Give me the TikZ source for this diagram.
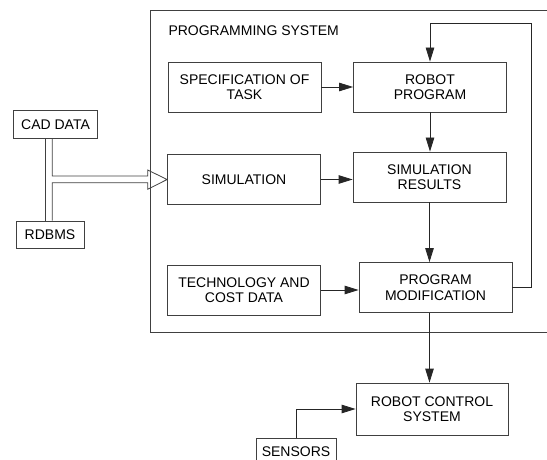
\documentclass[tikz,border=0pt]{standalone}
\usepackage{fontspec}
\setmainfont{Liberation Sans}
\usetikzlibrary{positioning,calc,arrows.meta}
\tikzset{
  blockbox/.style={draw=black!75, line width=0.8pt, minimum width=153pt,
    minimum height=50pt, align=center, inner sep=2pt,
    font=\fontsize{14}{15.5}\selectfont},
  databox/.style={draw=black!75, line width=0.8pt, minimum height=27.5pt,
    inner sep=2pt, font=\fontsize{14}{15.5}\selectfont},
  flow/.style={draw=black!85, line width=0.8pt,
    -{Triangle[length=14pt,width=8.5pt]}},
  frameline/.style={draw=black!75, line width=0.8pt}
}

\begin{document}
\begin{tikzpicture}[x=1pt,y=-1pt]
\useasboundingbox (0,0) rectangle (547,460);
\clip (0,0) rectangle (547,460);

%====================================================
% PROGRAMMING SYSTEM FRAME
%====================================================
\draw[frameline] (150,10) rectangle (560,332.5);
\node[anchor=base west, inner sep=0pt, font=\fontsize{14}{15.5}\selectfont]
  (systitle) at (168.3,36) {PROGRAMMING SYSTEM};

\node[blockbox] (spec)   at (244.5,87)  {SPECIFICATION OF\\TASK};
\node[blockbox] (prog)   at (430,87)    {ROBOT\\PROGRAM};
\node[blockbox] (sim)    at (244,179.5) {SIMULATION};
\node[blockbox] (simres) at (429.5,177) {SIMULATION\\RESULTS};
\node[blockbox] (tech)   at (244,290)   {TECHNOLOGY AND\\COST DATA};
\node[blockbox] (mod)    at (435.5,287.5) {PROGRAM\\MODIFICATION};

%====================================================
% OUTSIDE THE FRAME
%====================================================
\node[blockbox, minimum width=152pt, minimum height=52pt] (rcs) at (432,409) {ROBOT CONTROL\\SYSTEM};
\node[databox, minimum width=84.4pt] (cad)     at (55.5,124.5) {CAD DATA};
\node[databox, minimum width=68pt]   (rdbms)   at (50,234.7)   {RDBMS};
\node[databox, minimum width=80pt]   (sensors) at (296,452)    {SENSORS};

\draw[flow] (spec.east) -- (prog.west);
\draw[flow] (sim.east) -- (sim.east -| simres.west);
\draw[flow] (tech.east) -- (tech.east -| mod.west);
\draw[flow] (prog.south) -- (prog.south |- simres.north);
\draw[flow] (simres.south) -- (simres.south |- mod.north);
\draw[flow] (simres.south |- mod.south) -- (simres.south |- rcs.north);

% feedback loop
\coordinate (fbtop) at (531,23);
\draw[flow] (mod.east) -| (fbtop) -| (prog.north);

\draw[flow] (sensors.north) |- (rcs.west);

% hollow double arrow from the data sources
\coordinate (busl) at (45.7,0);
\coordinate (busr) at (52.3,0);
\draw[frameline] (cad.south -| busl) -- (rdbms.north -| busl);
\draw[frameline, line join=miter] (cad.south -| busr) |- (147.7,176) -- (147.7,170)
  -- (sim.west) -- (147.7,189.3) -- (147.7,182.7) -| (rdbms.north -| busr);
\end{tikzpicture}
\end{document}
